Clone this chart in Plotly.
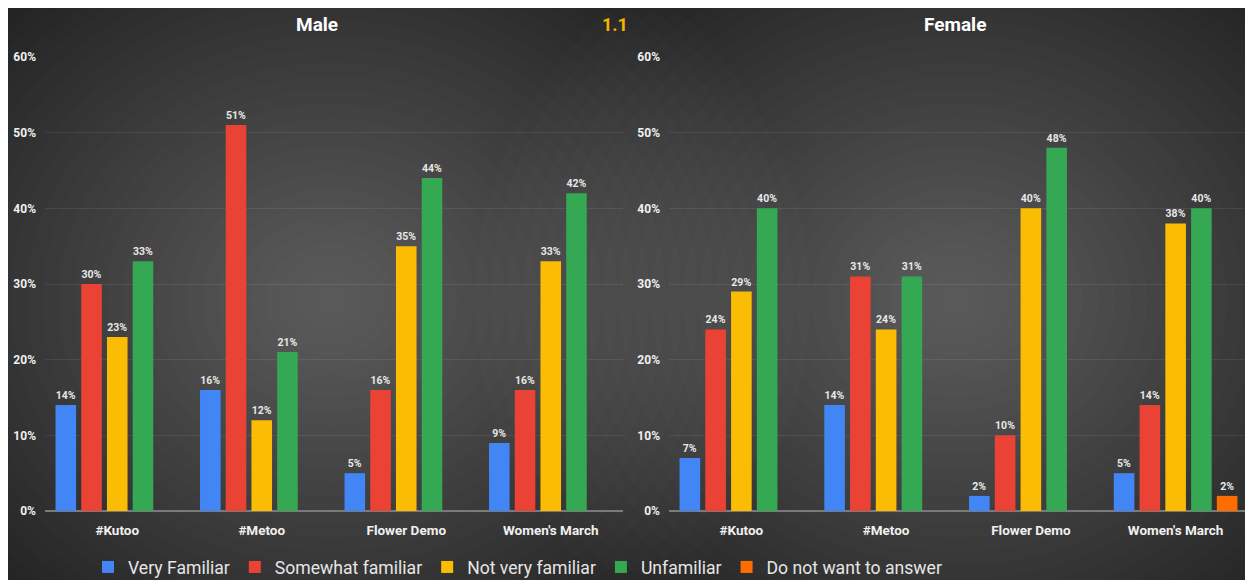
import plotly.graph_objects as go

W, H = 1253, 580
OFF = 8  # page body offset seen in the reference capture

categories = ["#Kutoo", "#Metoo", "Flower Demo", "Women's March"]
series_names = ["Very Familiar", "Somewhat familiar", "Not very familiar", "Unfamiliar", "Do not want to answer"]
colors = ["#4285F4", "#EA4335", "#FBBC04", "#34A853", "#FF6D01"]

male_very = [14, 16, 5, 9]
male_somewhat = [30, 51, 16, 16]
male_notvery = [23, 12, 35, 33]
male_unfamiliar = [33, 21, 44, 42]
male_noanswer = [None, None, None, None]

female_very = [7, 14, 2, 5]
female_somewhat = [24, 31, 10, 14]
female_notvery = [29, 24, 40, 38]
female_unfamiliar = [40, 31, 48, 40]
female_noanswer = [None, None, None, 2]

y_ticks = [0, 10, 20, 30, 40, 50, 60]
y_tick_labels = ["0%", "10%", "20%", "30%", "40%", "50%", "60%"]

male = [male_very, male_somewhat, male_notvery, male_unfamiliar, male_noanswer]
female = [female_very, female_somewhat, female_notvery, female_unfamiliar, female_noanswer]

FONT = "Roboto, Liberation Sans, sans-serif"


def px(x):
    return (x - OFF) / W


def py(y):
    return 1 - (y - OFF) / H


def labels(vals):
    return [("" if v is None else f"{v}%") for v in vals]


fig = go.Figure()

for panel, data, xa, ya in [(0, male, "x", "y"), (1, female, "x2", "y2")]:
    for i, name in enumerate(series_names):
        fig.add_trace(go.Bar(
            x=categories, y=data[i], name=name,
            marker=dict(color=colors[i], line=dict(width=0)),
            text=labels(data[i]), texttemplate="%{text}", textposition="outside", cliponaxis=False,
            textfont=dict(color="#e8e8e8", size=10.5, family=FONT, weight="bold"),
            xaxis=xa, yaxis=ya, showlegend=(panel == 0), legendgroup=name))

ydom = [py(511), py(57)]
axis_common = dict(showgrid=False, showline=False, zeroline=False, ticks="",
                   ticklabelstandoff=9,
                   tickfont=dict(color="#f0f0f0", size=13.5, family=FONT, weight="bold"))
yaxis_common = dict(range=[0, 60], tickvals=y_ticks, ticktext=y_tick_labels, showgrid=True,
                    gridcolor="rgba(255,255,255,0.08)", gridwidth=1, zeroline=True,
                    zerolinecolor="#7a7a7a", zerolinewidth=2, showline=False, ticks="",
                    ticklabelstandoff=8,
                    tickfont=dict(color="#f0f0f0", size=12, family=FONT, weight="bold"))

shapes = []
# radial-ish glow per panel
for cx, cy in [(330, 300), (955, 300)]:
    n = 30
    for k in range(n):
        f = 1 - k / n
        rx = 480 * f
        ry = 420 * f
        shapes.append(dict(type="circle", xref="paper", yref="paper",
                           x0=px(cx - rx), x1=px(cx + rx), y0=py(cy + ry), y1=py(cy - ry),
                           fillcolor="rgba(255,255,255,0.0105)", line=dict(width=0), layer="below"))

annotations = [
    dict(text="<b>Male</b>", x=px(317), y=py(24), xref="paper", yref="paper", showarrow=False,
         xanchor="center", yanchor="middle", font=dict(color="#ffffff", size=19, family=FONT)),
    dict(text="<b>Female</b>", x=px(955), y=py(24), xref="paper", yref="paper", showarrow=False,
         xanchor="center", yanchor="middle", font=dict(color="#ffffff", size=19, family=FONT)),
    dict(text="<b>1.1</b>", x=px(615), y=py(24), xref="paper", yref="paper", showarrow=False,
         xanchor="center", yanchor="middle", font=dict(color="#F4B400", size=18, family=FONT)),
]

fig.update_layout(
    width=W, height=H,
    margin=dict(l=0, r=0, t=0, b=0, autoexpand=False),
    paper_bgcolor="#202020", plot_bgcolor="rgba(0,0,0,0)",
    barmode="group", bargap=0.11, bargroupgap=0.2,
    xaxis=dict(domain=[px(45), px(623)], anchor="y", **axis_common),
    yaxis=dict(domain=ydom, anchor="x", **yaxis_common),
    xaxis2=dict(domain=[px(669), px(1248)], anchor="y2", **axis_common),
    yaxis2=dict(domain=ydom, anchor="x2", **yaxis_common),
    legend=dict(orientation="h", xref="container", yref="container",
                x=px(88), xanchor="left", y=py(567), yanchor="middle",
                font=dict(color="#e6e6e6", size=17.6, family=FONT), bgcolor="rgba(0,0,0,0)",
                itemwidth=30, tracegroupgap=0),
    shapes=shapes, annotations=annotations,
)

fig.write_html("out.html")
